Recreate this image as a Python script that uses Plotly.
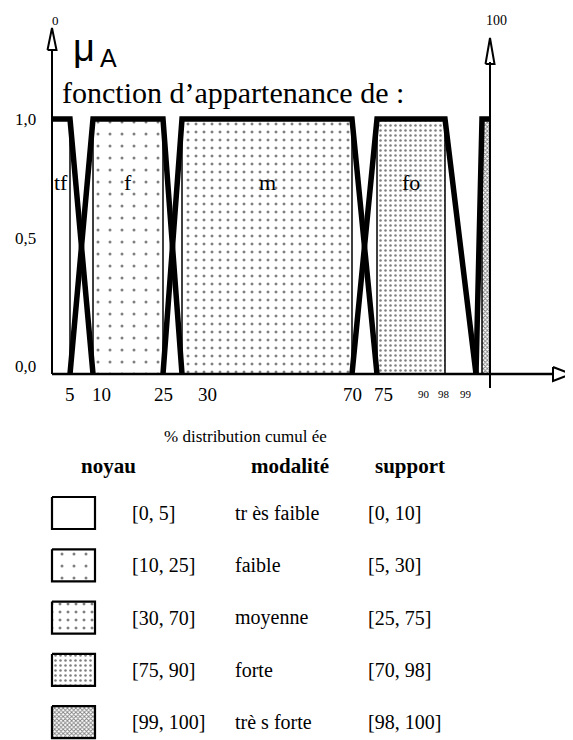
import numpy as np
import plotly.graph_objects as go

# fuzzy classes on the cumulated distribution (%)
modalites = ['tr ès faible', 'faible', 'moyenne', 'forte', 'trè s forte']
short_names = ['tf', 'f', 'm', 'fo', '']
noyau = [[0, 5], [10, 25], [30, 70], [75, 90], [99, 100]]
support = [[0, 10], [5, 30], [25, 75], [70, 98], [98, 100]]

x_ticks = [5, 10, 25, 30, 70, 75, 90, 98, 99]
y_ticks = [0.0, 0.5, 1.0]
y_tick_text = ['0,0', '0,5', '1,0']

# schematic (non linear) horizontal scale of the drawing: value -> pixel
scale_val = [0, 5, 10, 25, 30, 70, 75, 90, 98, 99, 100]
scale_pos = [52, 70, 93, 163, 182, 352, 377, 445, 476, 482, 490]

# page is 573x740, the html body keeps an 8px margin
OFF = 8
W, H = 573 - OFF, 740 - OFF
Y0, K = 374, 255     # page pixel of mu=0, pixels per unit of mu
SERIF = 'Liberation Serif'


def sx(v):
    return np.interp(v, scale_val, scale_pos)


def mu(pix):
    return (Y0 - np.asarray(pix, dtype=float)) / K


def px(x):
    return (x - OFF) / W


def py(y):
    return 1 - (y - OFF) / H


patterns = [
    None,
    dict(shape='.', size=12, solidity=0.05, fgcolor='black', bgcolor='white'),
    dict(shape='.', size=8, solidity=0.11, fgcolor='black', bgcolor='white'),
    dict(shape='.', size=5, solidity=0.2, fgcolor='black', bgcolor='white'),
    dict(shape='x', size=3, solidity=0.5, fgcolor='black', bgcolor='white'),
]

fig = go.Figure()

# cores (noyaux)
for n, pat in zip(noyau, patterns):
    xs = sx([n[0], n[0], n[1], n[1], n[0]])
    tr = dict(x=xs, y=[0, 1, 1, 0, 0], mode='lines', fill='toself',
              fillcolor='white', line=dict(color='black', width=1.5),
              hoverinfo='skip', showlegend=False)
    if pat:
        tr['fillpattern'] = pat
    fig.add_trace(go.Scatter(**tr))

# membership functions (trapezoids)
for n, s in zip(noyau, support):
    xv, yv = [], []
    if s[0] < n[0]:
        xv.append(s[0]); yv.append(0)
    xv += [n[0], n[1]]; yv += [1, 1]
    if s[1] > n[1]:
        xv.append(s[1]); yv.append(0)
    fig.add_trace(go.Scatter(x=sx(xv), y=yv, mode='lines',
                             line=dict(color='black', width=5.5),
                             hoverinfo='skip', showlegend=False))

# axes
x_left, x_right = sx(0), sx(100)
x_end = 553
fig.add_shape(type='line', x0=x_left, x1=x_end, y0=0, y1=0,
              line=dict(color='black', width=2.5))
fig.add_shape(type='line', x0=x_left, x1=x_left, y0=0, y1=float(mu(50)),
              line=dict(color='black', width=2))
fig.add_shape(type='line', x0=x_right, x1=x_right, y0=float(mu(388)), y1=float(mu(62)),
              line=dict(color='black', width=2))


# open arrow heads
def arrow_up(xc, tip, length=22, half=4.5):
    fig.add_trace(go.Scatter(x=[xc - half, xc, xc + half, xc - half],
                             y=mu([tip + length, tip, tip + length, tip + length]),
                             mode='lines', fill='toself', fillcolor='white',
                             line=dict(color='black', width=2),
                             hoverinfo='skip', showlegend=False))


arrow_up(x_left, 28)
arrow_up(x_right, 38, length=26)
fig.add_trace(go.Scatter(x=[x_end, 571, x_end, x_end],
                         y=mu([Y0 - 7, Y0, Y0 + 7, Y0 - 7]),
                         mode='lines', fill='toself', fillcolor='white',
                         line=dict(color='black', width=2),
                         hoverinfo='skip', showlegend=False))

ann = []


def text(x, y, t, size=20, xanchor='center', family=SERIF, **kw):
    ann.append(dict(x=px(x), y=py(y), xref='paper', yref='paper', text=t,
                    showarrow=False, xanchor=xanchor, yanchor='middle',
                    font=dict(family=family, size=size, color='black'), **kw))


text(55, 20, '0', size=13)
text(497, 20, '100', size=14)
text(84, 48, 'μ', size=38, family='Liberation Sans')
text(108, 58, 'A', size=25, family='Liberation Sans')
text(60, 92, 'fonction d’appartenance de :', size=30, xanchor='left')

# class names inside the cores
for n, name in zip(noyau, short_names):
    if name:
        ann.append(dict(x=float(sx(np.mean(n))), y=0.75, xref='x', yref='y', text=name,
                        showarrow=False, font=dict(family=SERIF, size=22, color='black')))

# tick labels
tick_nudge = {10: 8, 30: 25, 75: 6, 90: -21, 98: -32, 99: -16}
for v in x_ticks:
    small = v >= 90
    ann.append(dict(x=float(sx(v)), y=float(mu(394)), xref='x', yref='y', text=str(v),
                    showarrow=False, xshift=tick_nudge.get(v, 0),
                    font=dict(family=SERIF, size=11 if small else 19, color='black')))
for v, t in zip(y_ticks, y_tick_text):
    ann.append(dict(x=px(38), y=v, xref='paper', yref='y', text=t, showarrow=False,
                    xanchor='right', yshift=8 if v < 1 else 0,
                    font=dict(family=SERIF, size=17, color='black')))

text(245, 436, '% distribution cumul ée', size=17)

# table / legend
text(108, 466, '<b>noyau</b>', size=21)
text(290, 466, '<b>modalité</b>', size=21)
text(410, 466, '<b>support</b>', size=21)

row0, step = 513, 52.3
for i, (n, s, m, pat) in enumerate(zip(noyau, support, modalites, patterns)):
    yc = row0 + i * step
    tr = dict(x=[52, 95, 95, 52, 52], y=mu([yc - 16, yc - 16, yc + 16, yc + 16, yc - 16]),
              mode='lines', fill='toself', fillcolor='white',
              line=dict(color='black', width=2.2), hoverinfo='skip', showlegend=False)
    if pat:
        tr['fillpattern'] = pat
    fig.add_trace(go.Scatter(**tr))
    text(130, yc, f'[{n[0]}, {n[1]}]', xanchor='left')
    text(233, yc, m, xanchor='left')
    text(366, yc, f'[{s[0]}, {s[1]}]', xanchor='left')

fig.update_layout(
    width=W, height=H, margin=dict(l=0, r=0, t=0, b=0),
    paper_bgcolor='white', plot_bgcolor='white',
    xaxis=dict(range=[OFF, OFF + W], visible=False, fixedrange=True),
    yaxis=dict(range=[float(mu(OFF + H)), float(mu(OFF))], visible=False, fixedrange=True),
    annotations=ann, showlegend=False,
)

fig.write_html('out.html')
